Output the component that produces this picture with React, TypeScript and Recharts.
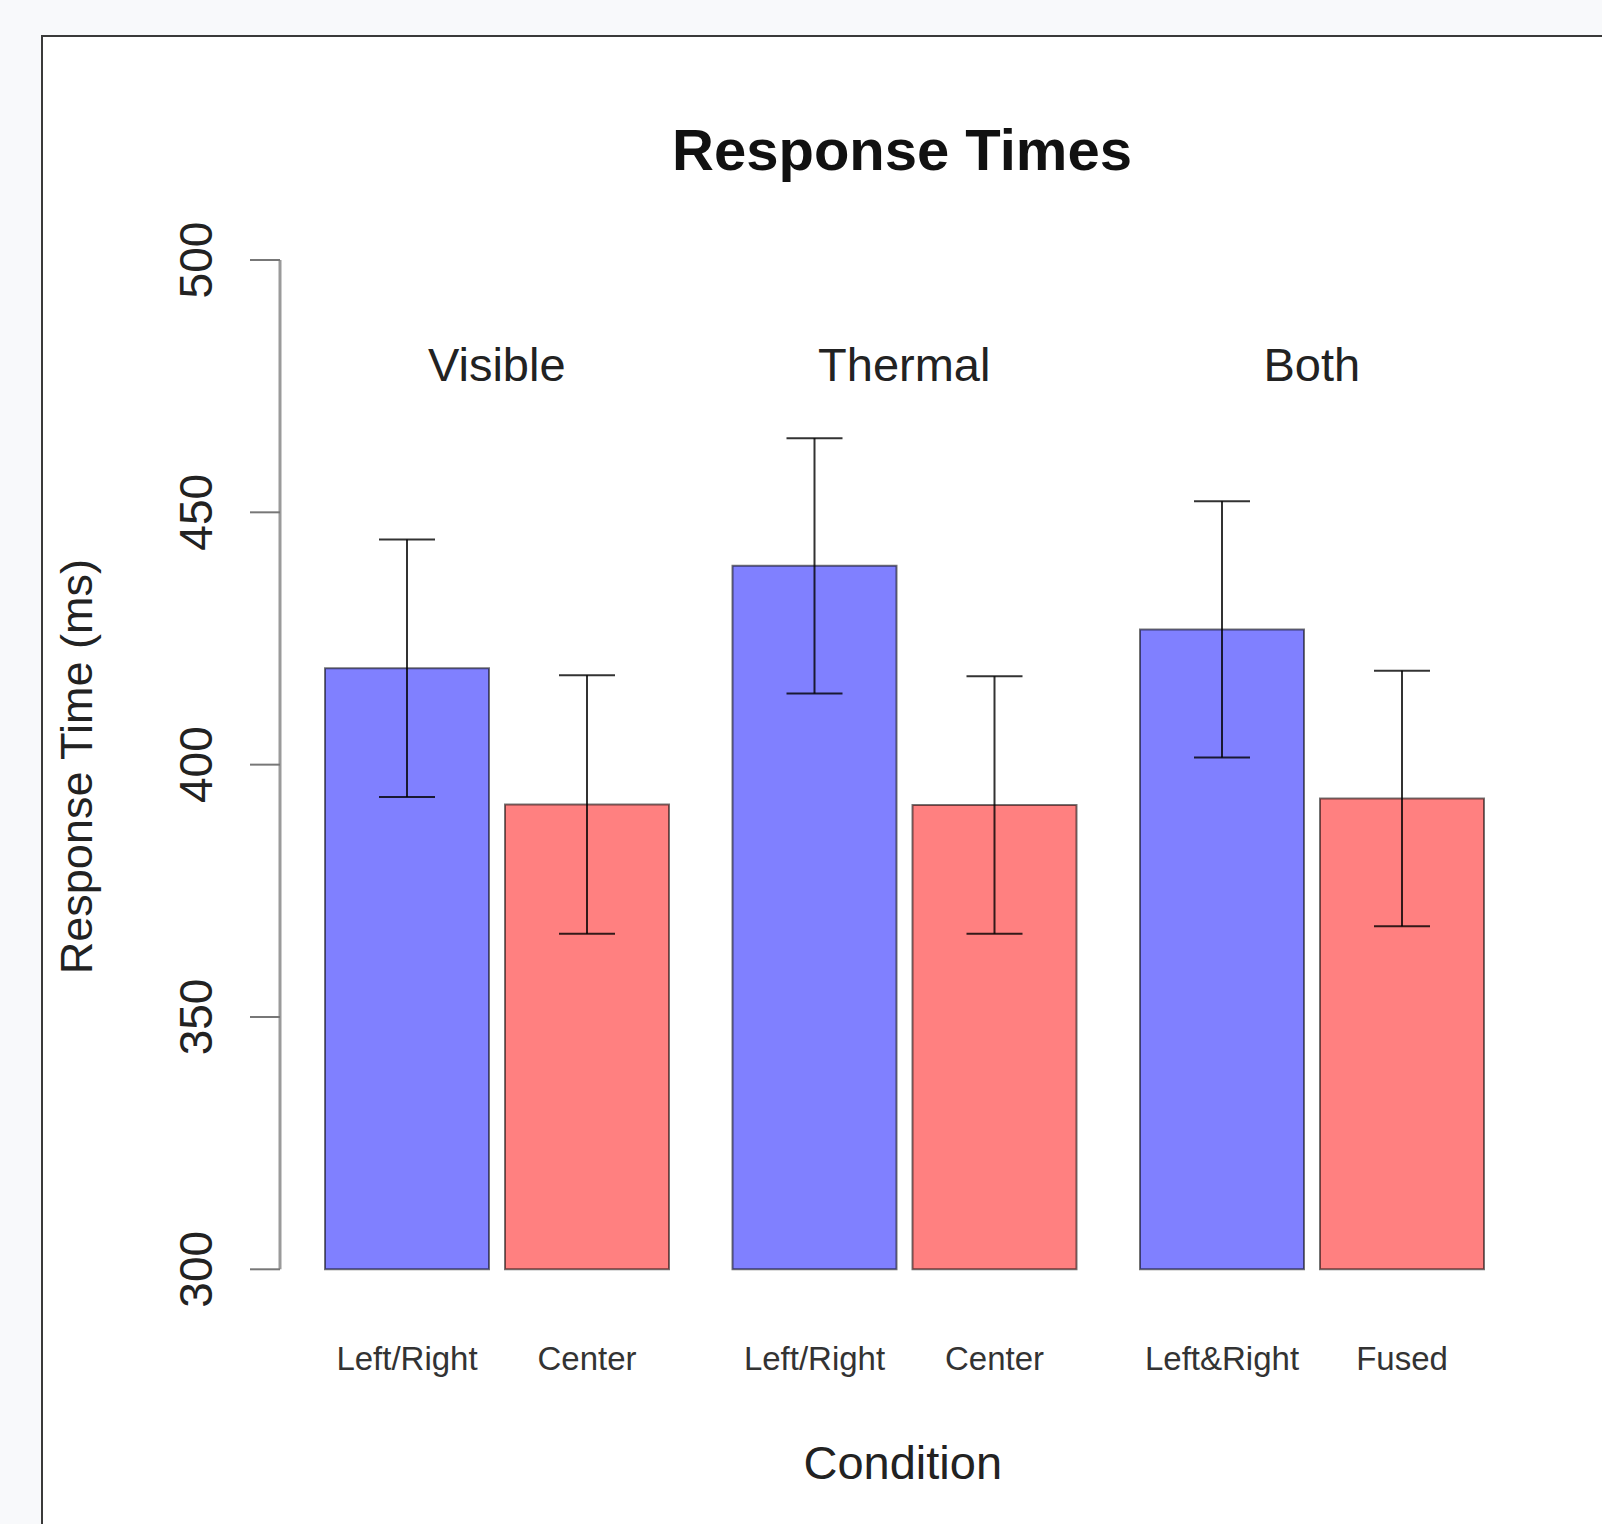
import React from 'react';
import { BarChart, Bar, XAxis, YAxis, ErrorBar, LabelList, ReferenceLine } from 'recharts';

const groups = ['Visible', 'Thermal', 'Both'];
const blueMeans = [419.1, 439.4, 426.8];
const blueErrors = [25.5, 25.3, 25.4];
const redMeans = [392.1, 392.0, 393.3];
const redErrors = [25.6, 25.5, 25.3];
const blueLabels = ['Left/Right', 'Left/Right', 'Left&Right'];
const redLabels = ['Center', 'Center', 'Fused'];
const yTicks = [300, 350, 400, 450, 500];

const title = 'Response Times';
const xTitle = 'Condition';
const yTitle = 'Response Time (ms)';

const data = groups.map((g, i) => ({
  group: g,
  blue: blueMeans[i],
  blueErr: blueErrors[i],
  blueLabel: blueLabels[i],
  red: redMeans[i],
  redErr: redErrors[i],
  redLabel: redLabels[i],
}));

const FONT = '"Liberation Sans", Arial, Helvetica, sans-serif';

const YTick = (props: any) => {
  const { x, y, payload } = props;
  return (
    <g transform={`translate(${x - 38},${y}) rotate(-90)`}>
      <text x={0} y={0} textAnchor="middle" fontSize={46} fontFamily={FONT} fill="#222">
        {payload.value}
      </text>
    </g>
  );
};

const barLabel = (props: any) => {
  const vb = props.viewBox && props.viewBox.width !== undefined ? props.viewBox : props;
  const x = Number(vb.x);
  const y = Number(vb.y);
  const w = Number(vb.width);
  const h = Number(vb.height);
  return (
    <text
      x={x + w / 2}
      y={y + h + 101}
      textAnchor="middle"
      fontSize={33}
      fontFamily={FONT}
      fill="#333"
    >
      {props.value}
    </text>
  );
};

const groupLabel = (name: string) => (props: any) => {
  const vb = props.viewBox || {};
  return (
    <text
      x={vb.x}
      y={vb.y + 121}
      textAnchor="middle"
      fontSize={47}
      fontFamily={FONT}
      fill="#222"
    >
      {name}
    </text>
  );
};

const xLabel = (props: any) => {
  const vb = props.viewBox || {};
  return (
    <text
      x={vb.x + vb.width / 2 + 5}
      y={vb.y + 210}
      textAnchor="middle"
      fontSize={47}
      fontFamily={FONT}
      fill="#222"
    >
      {xTitle}
    </text>
  );
};

const yLabel = (props: any) => {
  const vb = props.viewBox || {};
  return (
    <g transform={`translate(${vb.x + 92},${vb.y + vb.height / 2 + 2}) rotate(-90)`}>
      <text x={0} y={0} textAnchor="middle" fontSize={45} fontFamily={FONT} fill="#222">
        {yTitle}
      </text>
    </g>
  );
};

export default function App() {
  return (
    <div
      style={{
        position: 'absolute',
        left: 0,
        top: 0,
        width: 1602,
        height: 1524,
        background: '#f8f9fb',
        overflow: 'hidden',
      }}
    >
      <div
        style={{
          position: 'absolute',
          left: 41,
          top: 35,
          width: 1700,
          height: 1600,
          border: '2px solid #3a3a3a',
          background: '#ffffff',
        }}
      />
      <div
        style={{
          position: 'absolute',
          left: 402,
          top: 121,
          width: 1000,
          textAlign: 'center',
          fontFamily: FONT,
          fontWeight: 'bold',
          fontSize: 58,
          lineHeight: '58px',
          color: '#111',
        }}
      >
        {title}
      </div>
      <div style={{ position: 'absolute', left: 0, top: 0 }}>
        <BarChart
          width={1602}
          height={1524}
          data={data}
          margin={{ top: 260, right: 86.5, bottom: 0, left: 0 }}
          barSize={164}
          barGap={16}
        >
          <XAxis
            dataKey="group"
            type="category"
            axisLine={false}
            tickLine={false}
            tick={false}
            height={254.7}
            padding={{ left: 13, right: 0 }}
            label={xLabel}
          />
          <YAxis
            type="number"
            domain={[300, 500]}
            ticks={yTicks}
            width={280}
            tickSize={30}
            tickMargin={0}
            axisLine={{ stroke: '#9a9a9a', strokeWidth: 3 }}
            tickLine={{ stroke: '#777', strokeWidth: 2 }}
            tick={<YTick />}
            label={yLabel}
          />
          <Bar
            dataKey="blue"
            fill="#8080ff"
            stroke="#000"
            strokeOpacity={0.55}
            strokeWidth={2}
            isAnimationActive={false}
          >
            <ErrorBar dataKey="blueErr" width={28} stroke="#000" strokeOpacity={0.8} strokeWidth={2} />
            <LabelList dataKey="blueLabel" content={barLabel} />
          </Bar>
          <Bar
            dataKey="red"
            fill="#ff8080"
            stroke="#000"
            strokeOpacity={0.55}
            strokeWidth={2}
            isAnimationActive={false}
          >
            <ErrorBar dataKey="redErr" width={28} stroke="#000" strokeOpacity={0.8} strokeWidth={2} />
            <LabelList dataKey="redLabel" content={barLabel} />
          </Bar>
          {groups.map((g) => (
            <ReferenceLine key={g} x={g} stroke="none" strokeWidth={0} label={groupLabel(g)} />
          ))}
        </BarChart>
      </div>
    </div>
  );
}
